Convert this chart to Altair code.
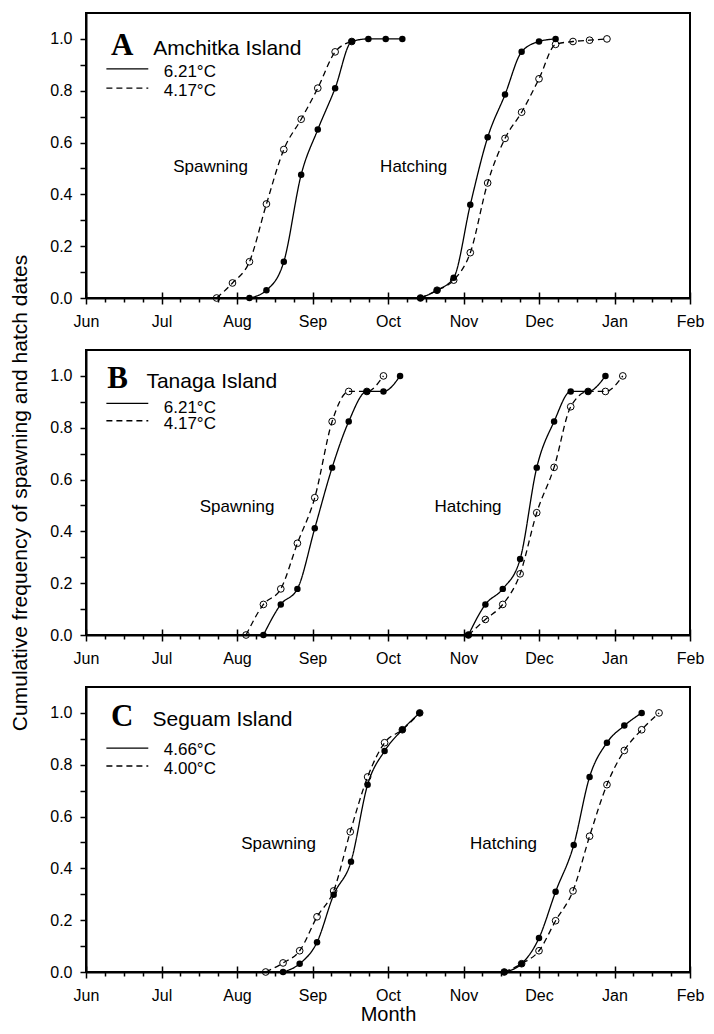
import altair as alt
import pandas as pd

# ---------------- data (x = months after 1 June, y = cumulative frequency) -------------
MONTHS = ["Jun", "Jul", "Aug", "Sep", "Oct", "Nov", "Dec", "Jan", "Feb"]
Y_TICKS = [0.0, 0.1, 0.2, 0.3, 0.4, 0.5, 0.6, 0.7, 0.8, 0.9, 1.0]

PANELS = ["A", "B", "C"]
ISLANDS = ["Amchitka Island", "Tanaga Island", "Seguam Island"]
WARM_LABELS = ["6.21°C", "6.21°C", "4.66°C"]
COLD_LABELS = ["4.17°C", "4.17°C", "4.00°C"]

# Panel A - Amchitka
A_SPAWN_WARM_M = [2.165, 2.39, 2.62, 2.85, 3.07, 3.30, 3.52, 3.74, 3.97, 4.19]
A_SPAWN_WARM_V = [0.0, 0.03, 0.14, 0.476, 0.65, 0.81, 0.99, 1.0, 1.0, 1.0]
A_SPAWN_COLD_M = [1.73, 1.94, 2.165, 2.39, 2.62, 2.85, 3.07, 3.30, 3.52]
A_SPAWN_COLD_V = [0.0, 0.058, 0.14, 0.363, 0.573, 0.69, 0.81, 0.95, 0.99]
A_HATCH_WARM_M = [4.43, 4.65, 4.87, 5.09, 5.32, 5.55, 5.77, 6.0, 6.22]
A_HATCH_WARM_V = [0.0, 0.03, 0.078, 0.36, 0.62, 0.785, 0.95, 0.99, 1.0]
A_HATCH_COLD_M = [4.43, 4.65, 4.87, 5.09, 5.32, 5.55, 5.77, 6.0, 6.22, 6.45, 6.67, 6.90]
A_HATCH_COLD_V = [0.0, 0.03, 0.069, 0.175, 0.444, 0.616, 0.717, 0.846, 0.979, 0.99, 0.995, 1.0]

# Panel B - Tanaga
B_SPAWN_WARM_M = [2.35, 2.58, 2.80, 3.03, 3.26, 3.48, 3.72, 3.94, 4.16]
B_SPAWN_WARM_V = [0.0, 0.118, 0.178, 0.412, 0.646, 0.824, 0.94, 0.94, 1.0]
B_SPAWN_COLD_M = [2.12, 2.35, 2.58, 2.80, 3.03, 3.26, 3.48, 3.72, 3.94]
B_SPAWN_COLD_V = [0.0, 0.118, 0.178, 0.354, 0.53, 0.824, 0.94, 0.94, 1.0]
B_HATCH_WARM_M = [5.065, 5.29, 5.52, 5.75, 5.97, 6.20, 6.42, 6.65, 6.88]
B_HATCH_WARM_V = [0.0, 0.118, 0.178, 0.293, 0.646, 0.824, 0.94, 0.94, 1.0]
B_HATCH_COLD_M = [5.065, 5.29, 5.52, 5.75, 5.97, 6.20, 6.42, 6.65, 6.88, 7.11]
B_HATCH_COLD_V = [0.0, 0.06, 0.118, 0.236, 0.472, 0.647, 0.881, 0.94, 0.94, 1.0]

# Panel C - Seguam
C_SPAWN_WARM_M = [2.61, 2.83, 3.06, 3.28, 3.51, 3.73, 3.955, 4.19, 4.42]
C_SPAWN_WARM_V = [0.0, 0.032, 0.115, 0.298, 0.426, 0.723, 0.853, 0.935, 1.0]
C_SPAWN_COLD_M = [2.38, 2.61, 2.83, 3.06, 3.28, 3.50, 3.73, 3.955, 4.19, 4.42]
C_SPAWN_COLD_V = [0.0, 0.035, 0.082, 0.213, 0.313, 0.541, 0.753, 0.885, 0.935, 1.0]
C_HATCH_WARM_M = [5.54, 5.77, 6.0, 6.22, 6.46, 6.67, 6.90, 7.13, 7.36]
C_HATCH_WARM_V = [0.0, 0.032, 0.131, 0.31, 0.49, 0.753, 0.885, 0.951, 1.0]
C_HATCH_COLD_M = [5.54, 5.77, 6.0, 6.22, 6.45, 6.67, 6.90, 7.13, 7.36, 7.59]
C_HATCH_COLD_V = [0.0, 0.032, 0.082, 0.198, 0.313, 0.524, 0.723, 0.855, 0.935, 1.0]

SERIES = {
    "A": [("spawn", "warm", A_SPAWN_WARM_M, A_SPAWN_WARM_V),
          ("spawn", "cold", A_SPAWN_COLD_M, A_SPAWN_COLD_V),
          ("hatch", "warm", A_HATCH_WARM_M, A_HATCH_WARM_V),
          ("hatch", "cold", A_HATCH_COLD_M, A_HATCH_COLD_V)],
    "B": [("spawn", "warm", B_SPAWN_WARM_M, B_SPAWN_WARM_V),
          ("spawn", "cold", B_SPAWN_COLD_M, B_SPAWN_COLD_V),
          ("hatch", "warm", B_HATCH_WARM_M, B_HATCH_WARM_V),
          ("hatch", "cold", B_HATCH_COLD_M, B_HATCH_COLD_V)],
    "C": [("spawn", "warm", C_SPAWN_WARM_M, C_SPAWN_WARM_V),
          ("spawn", "cold", C_SPAWN_COLD_M, C_SPAWN_COLD_V),
          ("hatch", "warm", C_HATCH_WARM_M, C_HATCH_WARM_V),
          ("hatch", "cold", C_HATCH_COLD_M, C_HATCH_COLD_V)],
}

# annotation anchors (data units) per panel
LETTER_POS = [(0.48, 0.936), (0.42, 0.952), (0.48, 0.949)]
NAME_POS = [(0.89, 0.936), (0.80, 0.952), (0.88, 0.949)]
LEG_LINE_X = (0.27, 0.825)
LEG_LINE_Y = [(0.884, 0.81), (0.894, 0.827), (0.864, 0.795)]
LEG_TEXT_X = 1.03
LEG_TEXT_Y = [(0.872, 0.80), (0.878, 0.815), (0.855, 0.785)]
SPAWN_POS = [(1.65, 0.506), (2.0, 0.493), (2.55, 0.494)]
HATCH_POS = [(4.34, 0.504), (5.06, 0.493), (5.53, 0.494)]

# ---------------- chart ----------------
W, H = 604, 285
FONT = "Liberation Sans"
x_scale = alt.Scale(domain=[0, 8], nice=False, zero=False)
y_scale = alt.Scale(domain=[0, 1.1], nice=False, zero=False)
dash_scale = alt.Scale(domain=["warm", "cold"], range=[[1, 0], [6, 4]])

month_expr = "[" + ",".join("'%s'" % m for m in MONTHS) + "][round(datum.value)]"
minor_vals = [i + q / 4 for i in range(8) for q in (1, 2, 3)]


def main_x_axis(show_title):
    kw = dict(values=list(range(len(MONTHS))), labelExpr=month_expr, tickSize=6,
              tickWidth=1.5, labelPadding=9, labelFontSize=16, domainWidth=2,
              labelFlush=False, labelOverlap=False, grid=False, orient="bottom")
    if show_title:
        kw.update(title="Month", titleFontSize=20, titlePadding=1,
                  titleFontWeight="normal")
    else:
        kw["title"] = None
    return alt.Axis(**kw)


inner_x_axis = alt.Axis(values=list(range(len(MONTHS))), tickSize=6, offset=-6,
                        tickWidth=1.5, labels=False, domain=False, grid=False,
                        orient="bottom", title=None)
minor_x_axis = alt.Axis(values=minor_vals, tickSize=4, tickWidth=1.5, labels=False,
                        domain=False, grid=False, orient="bottom", title=None)


def y_axis(show_title):
    kw = dict(values=Y_TICKS,
              labelExpr="(round(datum.value*10) % 2 == 0) ? format(datum.value, '.1f') : ''",
              tickSize=6, tickWidth=1.5, labelPadding=8, labelFontSize=16,
              domainWidth=2, grid=False, labelFlush=False, labelOverlap=False)
    if show_title:
        kw.update(title="Cumulative frequency of spawning and hatch dates",
                  titleFontSize=21, titlePadding=19, titleFontWeight="normal")
    else:
        kw["title"] = None
    return alt.Axis(**kw)


def panel(i, ytitle, xtitle):
    key = PANELS[i]
    rows = []
    for event, temp, ms, vs in SERIES[key]:
        for m, v in zip(ms, vs):
            rows.append({"event": event, "temp": temp, "month": m, "value": v})
    df = pd.DataFrame(rows)
    ya = y_axis(ytitle)

    lines = alt.Chart(df).mark_line(interpolate="monotone", color="black",
                                    strokeWidth=1.3).encode(
        x=alt.X("month:Q", scale=x_scale, axis=main_x_axis(xtitle)),
        y=alt.Y("value:Q", scale=y_scale, axis=ya),
        strokeDash=alt.StrokeDash("temp:N", scale=dash_scale, legend=None),
        detail="event:N",
    )
    open_pts = alt.Chart(df).transform_filter("datum.temp == 'cold'").mark_point(
        shape="circle", filled=False, size=45, color="black", strokeWidth=1, opacity=1
    ).encode(
        x=alt.X("month:Q", scale=x_scale, axis=inner_x_axis),
        y=alt.Y("value:Q", scale=y_scale, axis=ya),
    )
    filled_pts = alt.Chart(df).transform_filter("datum.temp == 'warm'").mark_circle(
        size=42, color="black", opacity=1
    ).encode(
        x=alt.X("month:Q", scale=x_scale, axis=minor_x_axis),
        y=alt.Y("value:Q", scale=y_scale, axis=ya),
    )

    leg = pd.DataFrame({
        "x": [LEG_LINE_X[0], LEG_LINE_X[0]],
        "x2": [LEG_LINE_X[1], LEG_LINE_X[1]],
        "value": list(LEG_LINE_Y[i]),
        "temp": ["warm", "cold"],
    })
    leg_rules = alt.Chart(leg).mark_rule(color="black", strokeWidth=1.3).encode(
        x=alt.X("x:Q", scale=x_scale, axis=None),
        x2="x2:Q",
        y=alt.Y("value:Q", scale=y_scale, axis=ya),
        strokeDash=alt.StrokeDash("temp:N", scale=dash_scale, legend=None),
    )

    leg_txt = pd.DataFrame({
        "x": [LEG_TEXT_X, LEG_TEXT_X],
        "value": list(LEG_TEXT_Y[i]),
        "label": [WARM_LABELS[i], COLD_LABELS[i]],
    })
    leg_text = alt.Chart(leg_txt).mark_text(
        font=FONT, fontSize=17, align="left", baseline="middle", color="black"
    ).encode(
        x=alt.X("x:Q", scale=x_scale, axis=None),
        y=alt.Y("value:Q", scale=y_scale, axis=ya),
        text="label:N",
    )

    letter = alt.Chart(pd.DataFrame({"x": [LETTER_POS[i][0]], "value": [LETTER_POS[i][1]],
                                     "label": [key]})).mark_text(
        font="Liberation Serif", fontWeight="bold", fontSize=31, align="center",
        baseline="alphabetic", color="black"
    ).encode(
        x=alt.X("x:Q", scale=x_scale, axis=None),
        y=alt.Y("value:Q", scale=y_scale, axis=ya),
        text="label:N",
    )

    name = alt.Chart(pd.DataFrame({"x": [NAME_POS[i][0]], "value": [NAME_POS[i][1]],
                                   "label": [ISLANDS[i]]})).mark_text(
        font=FONT, fontSize=21, align="left", baseline="alphabetic", color="black"
    ).encode(
        x=alt.X("x:Q", scale=x_scale, axis=None),
        y=alt.Y("value:Q", scale=y_scale, axis=ya),
        text="label:N",
    )

    ev = pd.DataFrame({
        "x": [SPAWN_POS[i][0], HATCH_POS[i][0]],
        "value": [SPAWN_POS[i][1], HATCH_POS[i][1]],
        "label": ["Spawning", "Hatching"],
    })
    ev_text = alt.Chart(ev).mark_text(
        font=FONT, fontSize=17, align="center", baseline="middle", color="black"
    ).encode(
        x=alt.X("x:Q", scale=x_scale, axis=None),
        y=alt.Y("value:Q", scale=y_scale, axis=ya),
        text="label:N",
    )

    return alt.layer(lines, open_pts, filled_pts, leg_rules, leg_text, letter, name,
                     ev_text).resolve_axis(x="independent").properties(width=W, height=H)


chart = alt.vconcat(
    panel(0, False, False),
    panel(1, True, False),
    panel(2, False, True),
    spacing=52,
    bounds="flush",
).properties(
    padding={"left": 0, "top": 4, "right": 0, "bottom": 0}
).configure(
    font=FONT
).configure_view(
    stroke="black", strokeWidth=2
).configure_axis(
    labelColor="black", tickColor="black", domainColor="black", titleColor="black",
    labelFont=FONT, titleFont=FONT
)

chart.save("out.html", embed_options={"renderer": "svg", "actions": False})
